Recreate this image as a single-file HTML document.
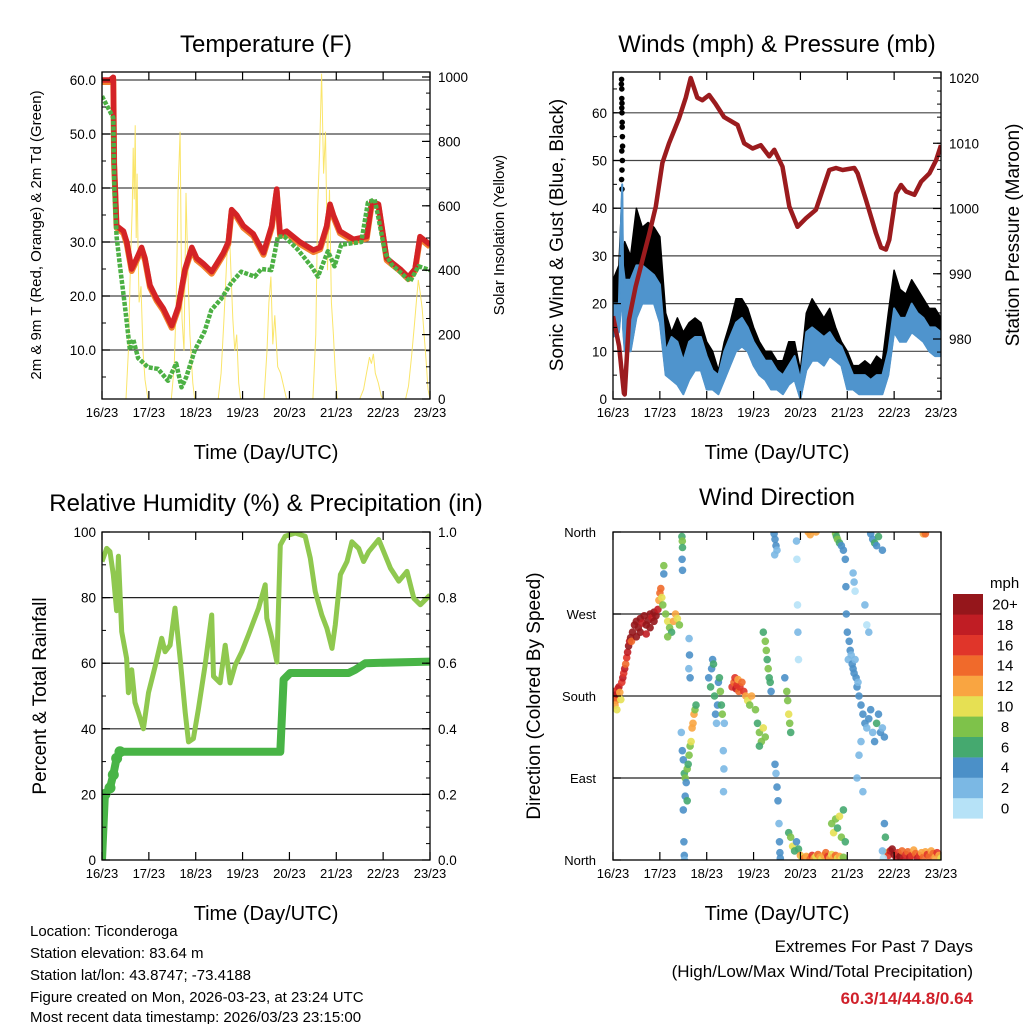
<!DOCTYPE html>
<html><head><meta charset="utf-8">
<style>
html,body{margin:0;padding:0;background:#fff;}
svg{display:block;font-family:"Liberation Sans",sans-serif;}
</style></head>
<body>
<svg id="fig" width="1024" height="1024" viewBox="0 0 1024 1024" xmlns="http://www.w3.org/2000/svg">
<defs>
<clipPath id="cT"><rect x="102" y="72" width="328" height="327"/></clipPath>
<clipPath id="cW"><rect x="613" y="72" width="328" height="327"/></clipPath>
<clipPath id="cR"><rect x="102" y="532" width="328" height="328"/></clipPath>
<clipPath id="cD"><rect x="613" y="532" width="328" height="328"/></clipPath>
</defs>
<g id="gT"></g>
<g id="gW"></g>
<g id="gR"></g>
<g id="gD"></g>
<g font-size="24" text-anchor="middle" fill="#000">
<text x="266" y="52">Temperature (F)</text>
<text x="777" y="52">Winds (mph) &amp; Pressure (mb)</text>
<text x="266" y="511">Relative Humidity (%) &amp; Precipitation (in)</text>
<text x="777" y="505">Wind Direction</text>
</g>
<g font-size="20" text-anchor="middle">
<text x="266" y="459">Time (Day/UTC)</text>
<text x="777" y="459">Time (Day/UTC)</text>
<text x="266" y="920">Time (Day/UTC)</text>
<text x="777" y="920">Time (Day/UTC)</text>
</g>
<text transform="translate(41,235) rotate(-90)" font-size="15" text-anchor="middle">2m &amp; 9m T (Red, Orange) &amp; 2m Td (Green)</text>
<text transform="translate(504,235) rotate(-90)" font-size="15" text-anchor="middle">Solar Insolation (Yellow)</text>
<text transform="translate(563,235) rotate(-90)" font-size="19" text-anchor="middle">Sonic Wind &amp; Gust (Blue, Black)</text>
<text transform="translate(1019,235) rotate(-90)" font-size="19" text-anchor="middle">Station Pressure (Maroon)</text>
<text transform="translate(46,696) rotate(-90)" font-size="19" text-anchor="middle">Percent &amp; Total Rainfall</text>
<text transform="translate(540,696) rotate(-90)" font-size="19" text-anchor="middle">Direction (Colored By Speed)</text>
<g font-size="15">
<text x="30" y="936">Location: Ticonderoga</text>
<text x="30" y="958">Station elevation: 83.64 m</text>
<text x="30" y="980">Station lat/lon: 43.8747; -73.4188</text>
<text x="30" y="1002">Figure created on Mon, 2026-03-23, at 23:24 UTC</text>
<text x="30" y="1022">Most recent data timestamp: 2026/03/23 23:15:00</text>
</g>
<g text-anchor="end">
<text x="973" y="952" font-size="17">Extremes For Past 7 Days</text>
<text x="973" y="977" font-size="17">(High/Low/Max Wind/Total Precipitation)</text>
<text x="973" y="1004" font-size="17" font-weight="bold" fill="#d0202a">60.3/14/44.8/0.64</text>
</g>
</svg>
<script>
// ---------- data ----------
const dayLabels=["16/23","17/23","18/23","19/23","20/23","21/23","22/23","23/23"];
const tempH=[0,4.1,5.8,6.2,7.5,11,12.7,15.2,17.8,20.3,22,24.6,28,31.4,35.7,39.1,42.5,46,48.5,51.9,56.2,58.8,62.2,64.7,66.4,69,72.4,77.5,82.7,84.4,86.9,89.5,91.2,94.6,101.4,108.3,111.7,115.1,116.8,118.5,121.9,128.8,135.6,138.2,141.6,145.8,149.2,152.7,156.9,160.3,162.9,166.3,168];
const tempV=[60,60,60.5,45,33,32,30,25,27,29,27,22,19.5,17.7,14.5,18,25,29,27,26,24.5,26,28,30,36,35,33,31.5,28,30,33,39.8,31.5,32,30,28.5,29,33,37,35,32,30.5,31,37.5,37,27,26,25,23.5,25,31,30,29.5];
const dewH=[0,5.8,6.3,7.5,9.2,11.8,14.3,16,18.5,23.6,28.7,33.8,38,40.7,43.2,47.5,52.6,56,61.1,66.2,71.3,78.2,81.6,86.7,90.1,93.5,100.3,107.2,110.6,115.7,119.1,122.5,132.8,136.2,139.6,141.3,145,148.4,153.5,157.8,162.1,168];
const dewV=[57,53,40,31,25.5,18,10,12,8.5,6.8,6.5,4.3,7.5,3.1,5,9.9,13.5,17.4,19.5,22.4,24.5,23.6,25,24.8,31,31,28.6,25.5,23.6,28.3,25.5,29.5,30,37.3,37.9,35,28,25.8,24.2,22.7,25.5,24.8];
const solarH=[0,12.3,13.5,14.5,15.5,16,16.5,17,17.5,18,18.5,19,20,21,22,23.5,35.5,37,38,39,40,40.5,41,42,43,44,45,46.5,47.5,59.5,61,62.5,64,65,66,67,68,69,70,71,83,84.5,85.5,86.5,87.5,88.5,90,91.5,93,94.5,108,109.5,110.5,111.5,112.5,113.5,114.5,115.5,116.5,117.5,118.5,119.5,120.5,132,134,135.5,137,138,139,140,141.5,143,144,155.5,157,158.5,160,161,162,163,164,165,166,167,168];
const solarV=[0,0,150,400,600,780,620,850,500,700,450,300,350,150,60,0,0,100,300,650,830,500,250,150,640,400,200,50,0,0,80,250,450,560,400,250,150,200,50,0,0,150,300,380,170,260,100,80,40,0,0,200,600,780,1010,700,830,400,650,300,200,80,0,0,30,80,130,110,140,80,50,10,0,0,40,130,230,300,370,330,280,200,120,30,0];
const presH=[0,3.1,5.6,6,8.2,11.6,15,18.5,21.9,25.3,28.7,33.8,37.3,39.8,43.2,45.8,49.2,52.6,56.9,63.8,67.2,71.5,75.7,80,82.6,86.8,90.3,94.5,98.8,103.9,107.4,110.8,114.2,117.6,123.6,125.3,129.6,134.7,137.3,139.8,141.5,145,147.5,150.1,154.4,157.8,162.1,165.5,168];
const presV=[983.5,978.9,971.7,971.5,983,988,992,996,1000.3,1007,1010,1013.8,1017,1020,1017,1016.6,1017.4,1016,1014,1012.8,1010,1009.2,1009.7,1008,1009,1006.4,1000.3,997.2,998.5,999.8,1002.9,1005.9,1006.2,1005.9,1006.2,1005.4,1001.3,996.2,994,993.7,995.2,1002.3,1003.6,1002.6,1002.1,1004.1,1005.4,1007.4,1009.7];
const windH=[0,3,4.3,4.7,5.1,6,9,12,15,18,21,24,27,30,33,36,39,42,45,48,51,54,57,60,63,66,69,72,75,78,81,84,87,90,93,96,99,102,105,108,111,114,117,120,123,126,129,132,135,138,141,144,147,150,153,156,159,162,165,168];
const windLo=[13,14,20,25,15,10,10,17,20,20,20,16,5,4,3,1,4,6,6,2,2,1,4,7,10,11,10,7,5,4,2,2,1,3,4,0,6,8,8,7,9,8,7,2,2,1,1,1,1,1,5,14,12,12,14,13,12,10,9,9];
const windHi=[20,20,40,45,28,25,25,28,28,27,26,24,10,13,12,8,12,13,13,9,6,5,10,13,16,17,15,12,10,8,8,6,5,7,9,4,14,15,14,13,14,12,11,8,5,5,5,4,5,5,10,19,17,17,20,18,17,15,15,14];
const gustHi=[25,28,40,45,30,33,30,40,36,37,36,34,18,14,17,14,16,17,16,12,10,6,12,16,21,21,19,15,12,10,10,8,8,12,12,6,18,21,19,17,19,15,12,10,7,7,8,7,9,8,18,27,23,22,25,23,21,19,19,17];
const spikeH=[4.3,4.4,4.5,4.5,4.6,4.6,4.7,4.8,4.5,4.8,4.6,4.4,4.7,4.5,4.9,4.6];
const spikeV=[66,67,65,63,62,60,58,55,52,50,48,46,57,61,53,44];
const rhH=[0,2.4,4.1,5.8,7.5,8.4,10.1,12.6,13.5,15.2,16.9,18.6,21.2,23.8,27.2,30.6,32.3,34.9,37.4,40,42.6,44.3,46.8,49.4,52.8,56.2,57.1,60.5,63.1,65.6,68.2,71.6,75,80.2,83.6,84.4,87,89.6,91.3,93.8,99,104.1,106.7,109.2,112.6,115.2,117.8,119.5,122.1,125.5,128,131.5,134,136.6,141.7,144.3,147.7,152,156.2,159.7,163.1,168];
const rhV=[91,95,94,87,76,92.6,69.6,61.5,51,58,48,45,40,51,59,67.6,63.5,65.5,76.8,61.5,45,36,37,46,59.4,74.7,56,54,65.5,54,59.4,63.5,68.6,76.8,83.9,73.7,67.6,60.4,96,98.7,99.7,98.7,92,81.9,74.7,70.6,64.5,71.7,87,91,97,95,91,94,97.7,94,89,85,88,79.8,77.8,80.8];
const precH=[0,1.5,4.1,5.8,7.5,9.2,91.3,93,96.4,126.3,129.7,134.9,168];
const precV=[0,0.2,0.22,0.26,0.31,0.33,0.33,0.55,0.57,0.57,0.58,0.6,0.605];
const dirH=[0,0.5,1,1.5,2,2.5,3,3.5,4,1,2,4.5,5,5.5,6,6.5,7,7.5,8,8.5,9,9.5,10,11,12,13,14,15,16,17,18,19,20,21,22,23,12,14,17,19,21,23.5,24,24.5,25,25.5,26,26,27,28,29,30,31,32,33,34,28,35.3,35.5,35.6,35.4,35.6,35,35.5,36,36.5,37,37.5,38,38.5,39,39.5,40,40.5,41,41.5,42,42.5,37,38,36,36.3,36.5,36.6,39,39.2,38.8,39.5,49,50,50.5,51,51.5,52,52.5,53,53.5,54,54.5,55,55.5,56,57,56.5,56.8,56.6,61,62,62.5,63,63.5,64,64.5,65,66,67,68,69,70,71,73,74,75,76,77,78,75,77,78,78.5,79,79.5,80,80.5,81,82.5,83,83.5,84,82.8,83,83.5,84,84.5,85,85.3,85.5,85.7,88,89,89.5,90,90.5,91,90,91,92,93,94,95,96,97,98,99,94,94.2,94.5,94.7,95,100,101,102,103,104,105,106,107,108,109,110,111,112,113,114,115,116,117,118,112,113,114,115,116,117,118,119,114,114.5,115,116,117,118,100,101,119,119.3,119.5,120,120.5,121,121.5,122,122.5,123,123.5,124,124.5,125,125.5,126,127,128,129,130,131,132,133,134,135,136,137,138,139,127,126,125,128,123,123.5,124,129,130,131,132,133,134,135,136,138,140,141,142,143,144,145,146,147,148,149,150,151,152,153,154,155,156,157,158,159,160,161,162,163,164,165,166,167,168,139,139.5,138,138.5,159,160,104];
const dirD=[185,180,178,175,182,188,190,184,176,170,165,195,200,205,210,215,222,228,235,240,244,240,250,258,262,255,265,260,268,258,263,270,266,272,268,275,245,250,248,255,262,285,293,298,288,280,323,314,270,262,255,250,262,270,265,258,245,355,350,343,330,318,140,120,110,95,90,85,100,105,115,125,130,145,150,160,165,170,70,65,55,20,5,0,243,225,210,200,200,190,210,220,215,180,160,150,170,195,200,185,170,160,150,120,100,75,190,195,200,188,192,198,185,190,195,185,180,175,170,180,165,150,140,130,145,135,125,250,240,230,220,210,200,195,185,358,352,345,340,335,105,95,80,65,40,20,8,2,200,185,175,160,150,140,30,25,15,10,20,12,5,3,2,4,350,330,280,250,220,3,1,5,2,4,6,3,1,5,8,4,2,6,3,5,2,4,1,3,40,30,45,35,48,25,55,20,358,355,352,348,345,340,360,357,330,300,270,250,220,240,230,225,215,210,205,220,200,190,195,180,170,160,150,145,155,165,140,130,150,160,140,145,135,130,115,90,75,315,305,295,280,258,250,358,352,348,345,355,340,8,5,10,12,6,3,8,4,10,2,6,9,3,5,11,7,2,5,8,3,9,6,4,10,7,3,8,5,2,40,25,10,2,358,358,360];
const dirS=[16,18,16,14,18,16,18,12,10,12,10,16,18,16,18,14,16,18,20,18,20,14,20,20,20,20,20,18,20,20,20,20,18,20,20,18,20,20,18,20,20,12,14,14,10,8,8,4,8,10,8,6,12,12,10,8,8,6,8,6,4,4,2,4,4,6,8,4,8,6,8,8,10,12,12,12,8,6,4,6,4,4,4,2,2,4,2,4,4,6,4,4,6,6,4,2,4,4,6,8,6,8,2,2,2,2,16,14,16,18,16,12,14,16,14,16,12,10,8,12,8,6,8,8,10,8,6,6,8,8,6,8,6,6,4,4,4,4,2,2,4,2,4,4,2,4,4,4,4,8,8,10,8,6,6,8,10,6,4,6,12,10,14,12,2,0,0,2,0,12,14,16,12,10,14,12,10,12,14,16,12,10,12,14,10,12,10,8,8,10,8,6,10,8,6,6,8,6,8,6,4,4,12,12,4,4,4,4,2,4,4,2,4,4,4,2,4,4,2,4,4,4,4,2,4,4,2,4,6,4,4,2,4,2,2,2,2,2,2,0,2,0,2,4,4,6,4,6,4,10,16,18,20,20,18,16,20,14,18,16,14,18,16,12,14,18,16,12,14,12,16,14,12,14,12,16,12,10,4,6,2,0,12,14,12];
const speedColors=["#b6e2f7","#7bb8e4","#4b90c8","#45a96f","#7ec24a","#e6e053","#f9a541","#f06a2b","#e0352a","#c01d24","#95161b"];
const speedLabels=["0","2","4","6","8","10","12","14","16","18","20+"];

// ---------- helpers ----------
const NS="http://www.w3.org/2000/svg";
function mk(tag,attrs,parent){const e=document.createElementNS(NS,tag);for(const k in attrs)e.setAttribute(k,attrs[k]);parent.appendChild(e);return e;}
const xT=h=>102+h*328/168, xW=h=>613+h*328/168;
const yT=v=>404-5.4*v, ySol=v=>399-0.322*v;
const yWs=v=>399-4.77*v, yP=p=>339-(p-980)*6.525;
const yR=v=>860-3.28*v, yPr=v=>860-328*v;
const yD=d=>860-d*328/360;
function pts(H,V,fx,fy){return H.map((h,i)=>fx(h).toFixed(1)+","+fy(V[i]).toFixed(1)).join(" ");}

function frame(g,x0,y0,w,h,name){
  const r=mk("rect",{x:x0,y:y0,width:w,height:h,fill:"none",stroke:"#000","stroke-width":1.3},g);
  
  
}
function xAxis(g,x0,yTop,yBot,name){
  for(let d=0;d<8;d++){
    const x=x0+d*24*328/168;
    const t1=mk("line",{x1:x,x2:x,y1:yBot,y2:yBot-8,stroke:"#000","stroke-width":1.2},g);
    
    
    const t2=mk("line",{x1:x,x2:x,y1:yTop,y2:yTop+8,stroke:"#000","stroke-width":1.2},g);
    
    
    const lb=mk("text",{x:x,y:yBot+18,"font-size":13,"text-anchor":"middle"},g);
    lb.textContent=dayLabels[d];
    
    
  }
}
function yTicks(g,side,xEdge,fy,vals,minorVals,fmt,name){
  const dir=side==="left"?1:-1;
  minorVals.forEach(v=>{const y=fy(v);
    const t=mk("line",{x1:xEdge,x2:xEdge+dir*4,y1:y,y2:y,stroke:"#000","stroke-width":1},g);
    
    });
  vals.forEach(v=>{const y=fy(v);
    const t=mk("line",{x1:xEdge,x2:xEdge+dir*8,y1:y,y2:y,stroke:"#000","stroke-width":1.2},g);
    
    
    const lb=mk("text",{x:side==="left"?xEdge-6:xEdge+8,y:y+5,"font-size":13.5,"text-anchor":side==="left"?"end":"start"},g);
    lb.textContent=fmt(v);
    
    });
}
function grid(g,x0,x1,fy,vals,name,col){
  vals.forEach(v=>{const l=mk("line",{x1:x0,x2:x1,y1:fy(v),y2:fy(v),stroke:col||"#333","stroke-width":1.2},g);
    
    });
}
function range(a,b,s){const r=[];for(let v=a;v<=b+1e-9;v+=s)r.push(+v.toFixed(3));return r;}

// ---------- Temperature ----------
(function(){
  const g=document.getElementById("gT");
  grid(g,102,430,yT,[10,20,30,40,50,60],"temperature","#444");
  const c=mk("g",{"clip-path":"url(#cT)"},g);
  const sol=mk("polyline",{points:pts(solarH,solarV,xT,ySol),fill:"none",stroke:"#f9e25a","stroke-width":1,opacity:0.9},c);
  
  
  const t9=mk("polyline",{points:pts(tempH,tempV,xT,yT),fill:"none",stroke:"#f2802e","stroke-width":6,"stroke-linejoin":"round",transform:"translate(0,2)"},c);
  
  
  const t2=mk("polyline",{points:pts(tempH,tempV,xT,yT),fill:"none",stroke:"#d42326","stroke-width":5.5,"stroke-linejoin":"round"},c);
  
  
  const td=mk("polyline",{points:pts(dewH,dewV,xT,yT),fill:"none",stroke:"#4cb044","stroke-width":4.5,"stroke-dasharray":"4 1.5","stroke-linejoin":"round"},c);
  
  
  frame(g,102,72,328,327,"temperature");
  xAxis(g,102,72,399,"temperature");
  yTicks(g,"left",102,yT,[10,20,30,40,50,60],range(5,60,5),v=>v.toFixed(1),"temperature-y");
  yTicks(g,"right",430,ySol,[0,200,400,600,800,1000],range(0,1000,50),v=>String(v),"solar-y");
})();

// ---------- Winds ----------
(function(){
  const g=document.getElementById("gW");
  grid(g,613,941,yWs,[10,20,30,40,50,60],"winds","#444");
  const c=mk("g",{"clip-path":"url(#cW)"},g);
  const gp=windH.map((h,i)=>xW(h).toFixed(1)+","+yWs(gustHi[i]).toFixed(1)).join(" ")+" "+windH.slice().reverse().map((h,j)=>{const i=windH.length-1-j;return xW(h).toFixed(1)+","+yWs(windLo[i]).toFixed(1);}).join(" ");
  const gb=mk("polygon",{points:gp,fill:"#000",stroke:"#000","stroke-width":1.5,"stroke-linejoin":"round"},c);
  
  
  spikeH.forEach((h,i)=>{const d=mk("circle",{cx:xW(h),cy:yWs(spikeV[i]),r:2.8,fill:"#000"},c);
    
    });
  const wp=windH.map((h,i)=>xW(h).toFixed(1)+","+yWs(windHi[i]).toFixed(1)).join(" ")+" "+windH.slice().reverse().map((h,j)=>{const i=windH.length-1-j;return xW(h).toFixed(1)+","+yWs(windLo[i]).toFixed(1);}).join(" ");
  const wb=mk("polygon",{points:wp,fill:"#4f94cd",stroke:"#4f94cd","stroke-width":2,"stroke-linejoin":"round"},c);
  
  
  const pl=mk("polyline",{points:pts(presH,presV,xW,yP),fill:"none",stroke:"#9b1b1e","stroke-width":4.5,"stroke-linejoin":"round"},c);
  
  
  frame(g,613,72,328,327,"winds");
  xAxis(g,613,72,399,"winds");
  yTicks(g,"left",613,yWs,[0,10,20,30,40,50,60],range(0,65,5),v=>String(v),"wind-y");
  yTicks(g,"right",941,yP,[980,990,1000,1010,1020],range(972,1020,2),v=>String(v),"pressure-y");
})();

// ---------- Humidity ----------
(function(){
  const g=document.getElementById("gR");
  grid(g,102,430,yR,[20,40,60,80],"humidity","#222");
  const c=mk("g",{"clip-path":"url(#cR)"},g);
  const rl=mk("polyline",{points:pts(rhH,rhV,xT,yR),fill:"none",stroke:"#8fc84f","stroke-width":5,"stroke-linejoin":"round"},c);
  
  
  const pr=mk("polyline",{points:pts(precH,precV,xT,yPr),fill:"none",stroke:"#48b446","stroke-width":8,"stroke-linejoin":"round","stroke-linecap":"round"},c);
  
  
  precH.slice(1,6).forEach((h,i)=>{const d=mk("circle",{cx:xT(h),cy:yPr(precV[i+1]),r:5.5,fill:"#48b446"},c);
    
    });
  frame(g,102,532,328,328,"humidity");
  xAxis(g,102,532,860,"humidity");
  yTicks(g,"left",102,yR,[0,20,40,60,80,100],range(0,100,10),v=>String(v),"humidity-y");
  yTicks(g,"right",430,yPr,[0,0.2,0.4,0.6,0.8,1.0],range(0,1,0.05),v=>v.toFixed(1),"precip-y");
})();

// ---------- Wind direction ----------
(function(){
  const g=document.getElementById("gD");
  grid(g,613,941,yD,[90,180,270],"direction","#222");
  const c=mk("g",{"clip-path":"url(#cD)"},g);
  dirH.forEach((h,i)=>{
    const idx=Math.min(10,Math.max(0,Math.floor(dirS[i]/2)));
    const d=mk("circle",{cx:xW(h).toFixed(1),cy:yD(dirD[i]).toFixed(1),r:3.8,fill:speedColors[idx],opacity:0.9},c);
    
    
  });
  frame(g,613,532,328,328,"direction");
  xAxis(g,613,532,860,"direction");
  const names=["North","East","South","West","North"];
  [0,90,180,270,360].forEach((v,i)=>{
    const y=yD(v);
    const t=mk("line",{x1:613,x2:621,y1:y,y2:y,stroke:"#000","stroke-width":1.2},g);
    
    
    const lb=mk("text",{x:596,y:y+5,"font-size":13,"text-anchor":"end"},g);
    lb.textContent=names[i];
    
    
  });
  const mph=mk("text",{x:990,y:588,"font-size":15},g);
  mph.textContent="mph";
  
  
  for(let i=0;i<11;i++){
    const top=594+(10-i)*20.4;
    const r=mk("rect",{x:953,y:top,width:30,height:20.6,fill:speedColors[i]},g);
    
    
    const lb=mk("text",{x:1005,y:top+15.5,"font-size":15,"text-anchor":"middle"},g);
    lb.textContent=speedLabels[i];
    
    
  }
})();
</script>
</body></html>
